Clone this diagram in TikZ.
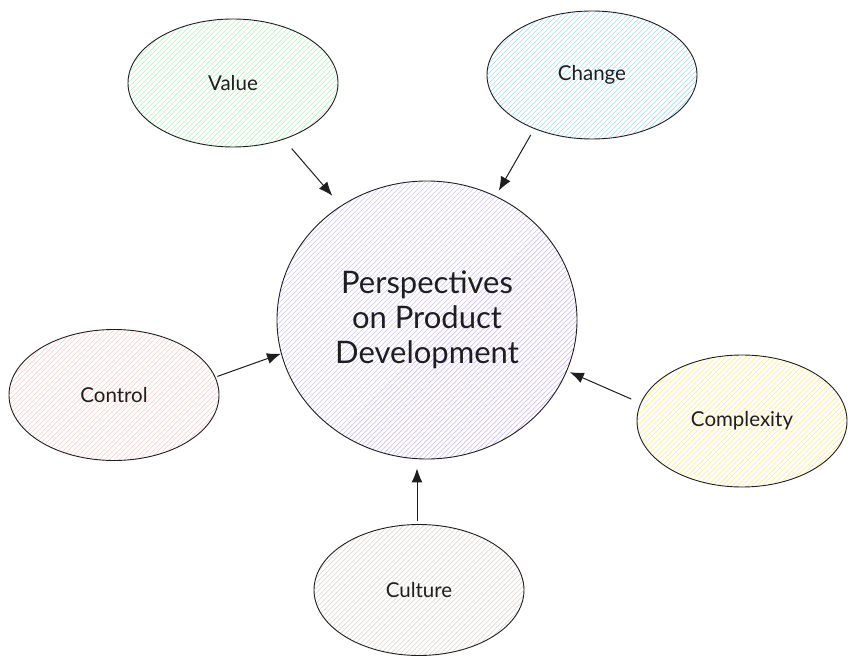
\documentclass[tikz,border=0pt]{standalone}
\usepackage{fontspec}
\setmainfont{Lato}
\usetikzlibrary{shapes.geometric,arrows.meta}
\definecolor{ink}{HTML}{1E1E1E}
\definecolor{hgreen}{HTML}{B2F2BB}
\definecolor{hblue}{HTML}{A5D8FF}
\definecolor{hpurple}{HTML}{D0BFFF}
\definecolor{hpink}{HTML}{FFC9C9}
\definecolor{hyellow}{HTML}{FFEC99}
\definecolor{hbronze}{HTML}{E2D9D3}
\tikzset{
  hatchfill/.style={path picture={
    \foreach \i in {-310,-305,...,310}
      \draw[#1,line width=0.7pt] ([shift={(\i pt-300pt,-300pt)}]path picture bounding box.center) -- ++(600pt,600pt);
  }},
  topic/.style={ellipse,draw=ink,line width=0.9pt,minimum width=210pt,minimum height=128pt,inner sep=0pt,font=\fontsize{20.5}{23}\selectfont,text=ink},
  hub/.style={ellipse,draw=ink,line width=0.9pt,minimum width=300pt,minimum height=278pt,inner sep=0pt,align=center,font=\fontsize{31}{35}\selectfont,text=ink},
  link/.style={draw=ink,line width=1pt,-{Latex[length=14pt,width=11pt]}}
}
\begin{document}
\begin{tikzpicture}[x=1pt,y=1pt]
\useasboundingbox (0,0) rectangle (856,667);
\node[hub,hatchfill=hpurple] (p) at (427,347) {Perspectives\\on Product\\Development};
\node[topic,hatchfill=hgreen] (v) at (233,584) {Value};
\node[topic,hatchfill=hblue] (c) at (592,592) {Change};
\node[topic,hatchfill=hpink,minimum height=131pt] (k) at (114,272) {Control};
\node[topic,hatchfill=hyellow,minimum height=132pt] (x) at (742,246) {Complexity};
\node[topic,hatchfill=hbronze,minimum height=131pt] (u) at (419,77) {Culture};
\draw[link,shorten <=12pt,shorten >=13pt] (v.312) -- (p.127);
\draw[link,shorten <=7pt,shorten >=6pt] (c.223) -- (p.61);
\draw[link,shorten <=2pt,shorten >=0pt] (k.10) -- (p.193);
\draw[link,shorten <=10pt,shorten >=3pt] (x.170) -- (p.340);
\draw[link,shorten <=3pt,shorten >=9pt] ([xshift=-2pt]u.north) -- ([xshift=-2pt]u.north |- p.south);
\end{tikzpicture}
\end{document}
